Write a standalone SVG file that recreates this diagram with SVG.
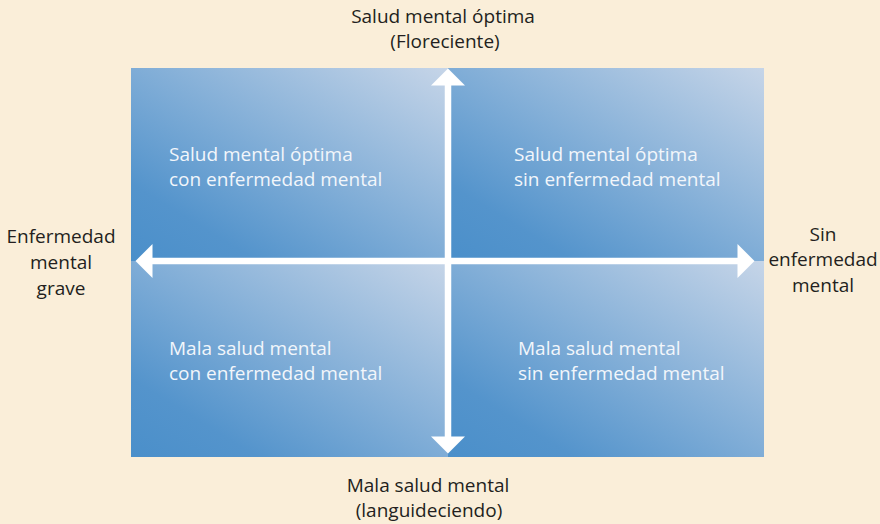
<svg xmlns="http://www.w3.org/2000/svg" width="880" height="524" viewBox="0 0 880 524">
<style>
.lbl{font-family:"Open Sans","Liberation Sans",sans-serif;font-size:19px;fill:#231f20;text-anchor:middle}
.in{font-family:"Open Sans","Liberation Sans",sans-serif;font-size:19px;fill:#f2f6fb}
.ax{stroke:#ffffff;stroke-width:6.5;fill:none}
</style>
<defs>
<linearGradient id="g" x1="0" y1="1" x2="1" y2="0">
<stop offset="0" stop-color="#4a8fca"/>
<stop offset="0.2" stop-color="#5494cc"/>
<stop offset="1" stop-color="#c6d5e8"/>
</linearGradient>
<marker id="ah" markerUnits="userSpaceOnUse" markerWidth="18" markerHeight="34" refX="0.5" refY="17" orient="auto-start-reverse" overflow="visible">
<path d="M0,0 L17,17 L0,34 Z" fill="#ffffff"/>
</marker>
</defs>
<rect width="880" height="524" fill="#faeed9"/>
<g id="q-top-left">
<rect x="131" y="68" width="317" height="193" fill="url(#g)"/>
<text class="in" x="169" y="161">Salud mental óptima</text>
<text class="in" x="169" y="186">con enfermedad mental</text>
</g>
<g id="q-top-right">
<rect x="448" y="68" width="316" height="193" fill="url(#g)"/>
<text class="in" x="514" y="161">Salud mental óptima</text>
<text class="in" x="514" y="186">sin enfermedad mental</text>
</g>
<g id="q-bottom-left">
<rect x="131" y="261" width="317" height="196" fill="url(#g)"/>
<text class="in" x="169" y="355">Mala salud mental</text>
<text class="in" x="169" y="380">con enfermedad mental</text>
</g>
<g id="q-bottom-right">
<rect x="448" y="261" width="316" height="196" fill="url(#g)"/>
<text class="in" x="518" y="355">Mala salud mental</text>
<text class="in" x="518" y="380">sin enfermedad mental</text>
</g>
<g id="connectors">
<line class="ax" x1="448" y1="85" x2="448" y2="437" marker-start="url(#ah)" marker-end="url(#ah)"/>
<line class="ax" x1="152" y1="261" x2="738" y2="261" marker-start="url(#ah)" marker-end="url(#ah)"/>
</g>
<g id="label-top">
<text class="lbl" x="443" y="23">Salud mental óptima</text>
<text class="lbl" x="445" y="48">(Floreciente)</text>
</g>
<g id="label-bottom">
<text class="lbl" x="428" y="492">Mala salud mental</text>
<text class="lbl" x="429" y="517">(languideciendo)</text>
</g>
<g id="label-left">
<text class="lbl" x="61" y="243">Enfermedad</text>
<text class="lbl" x="61" y="269">mental</text>
<text class="lbl" x="61" y="295">grave</text>
</g>
<g id="label-right">
<text class="lbl" x="823" y="241">Sin</text>
<text class="lbl" x="823" y="266">enfermedad</text>
<text class="lbl" x="823" y="292">mental</text>
</g>
</svg>
